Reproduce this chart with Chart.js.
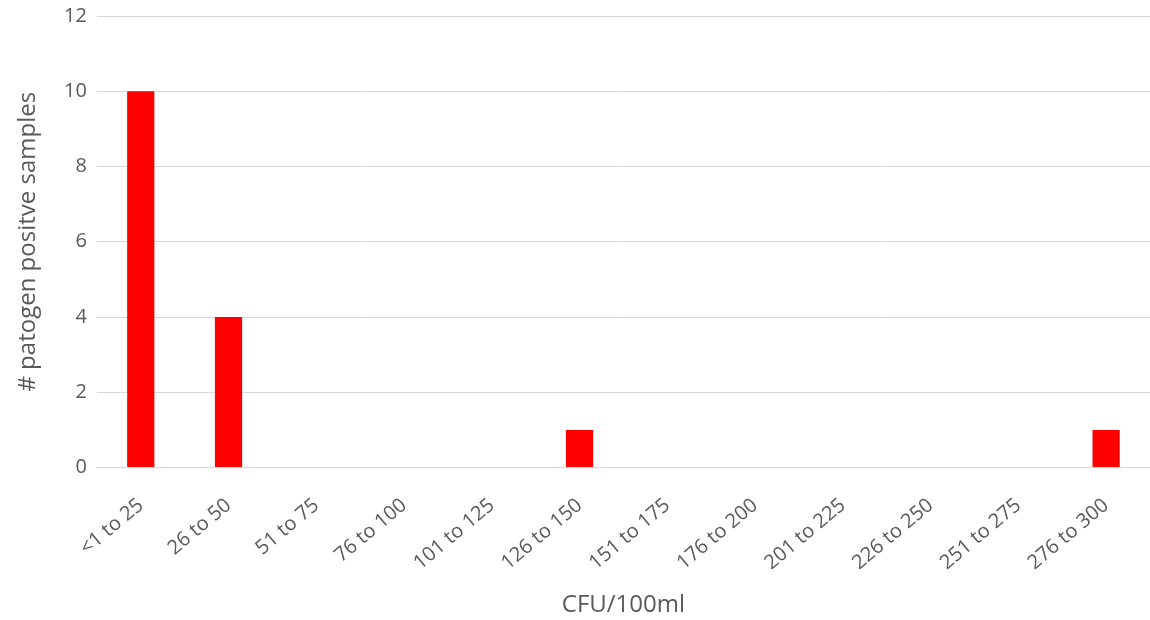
<!DOCTYPE html>
<html>
<head>
<meta charset="utf-8">
<script src="https://cdn.jsdelivr.net/npm/chart.js@4"></script>
<style>
  html, body { margin: 0; padding: 0; background: #fff; }
  #wrap { width: 1150px; height: 620px; }
</style>
</head>
<body>
<div id="wrap"><canvas id="chart"></canvas></div>
<script>
const categories = ['<1 to 25', '26 to 50', '51 to 75', '76 to 100', '101 to 125', '126 to 150',
  '151 to 175', '176 to 200', '201 to 225', '226 to 250', '251 to 275', '276 to 300']
const positives = [10, 4, 0, 0, 0, 1, 0, 0, 0, 0, 0, 1]
const yTicks = [0, 2, 4, 6, 8, 10, 12]

const textColor = '#595959'
const font = { family: '"Open Sans", "Liberation Sans", sans-serif', size: 20 }
const titleFont = { ...font, size: 24, lineHeight: 1 }

new Chart(document.getElementById('chart'), {
  type: 'bar',
  data: {
    labels: categories,
    datasets: [{
      data: positives,
      backgroundColor: '#ff0000',
      barPercentage: 0.31,
      categoryPercentage: 1
    }]
  },
  options: {
    responsive: true,
    maintainAspectRatio: false,
    animation: false,
    layout: { padding: { top: 0, right: 0, left: 12, bottom: 1 } },
    plugins: { legend: { display: false }, tooltip: { enabled: false } },
    scales: {
      x: {
        grid: { display: false },
        border: { color: '#d9d9d9' },
        ticks: { color: textColor, font: font, minRotation: 40, maxRotation: 40, autoSkip: false, padding: 18 },
        title: { display: true, text: 'CFU/100ml', color: textColor, font: titleFont, padding: { top: 0, bottom: 2 } }
      },
      y: {
        min: 0,
        max: 12,
        afterBuildTicks: axis => { axis.ticks = yTicks.map(v => ({ value: v })) },
        grid: { color: '#d9d9d9', drawTicks: false },
        border: { display: false },
        ticks: { color: textColor, font: { ...font, lineHeight: 0.6 }, padding: 10 },
        title: { display: true, text: '# patogen positve samples', color: textColor, font: titleFont, padding: { top: 4, bottom: 14 } }
      }
    }
  }
})
</script>
</body>
</html>
